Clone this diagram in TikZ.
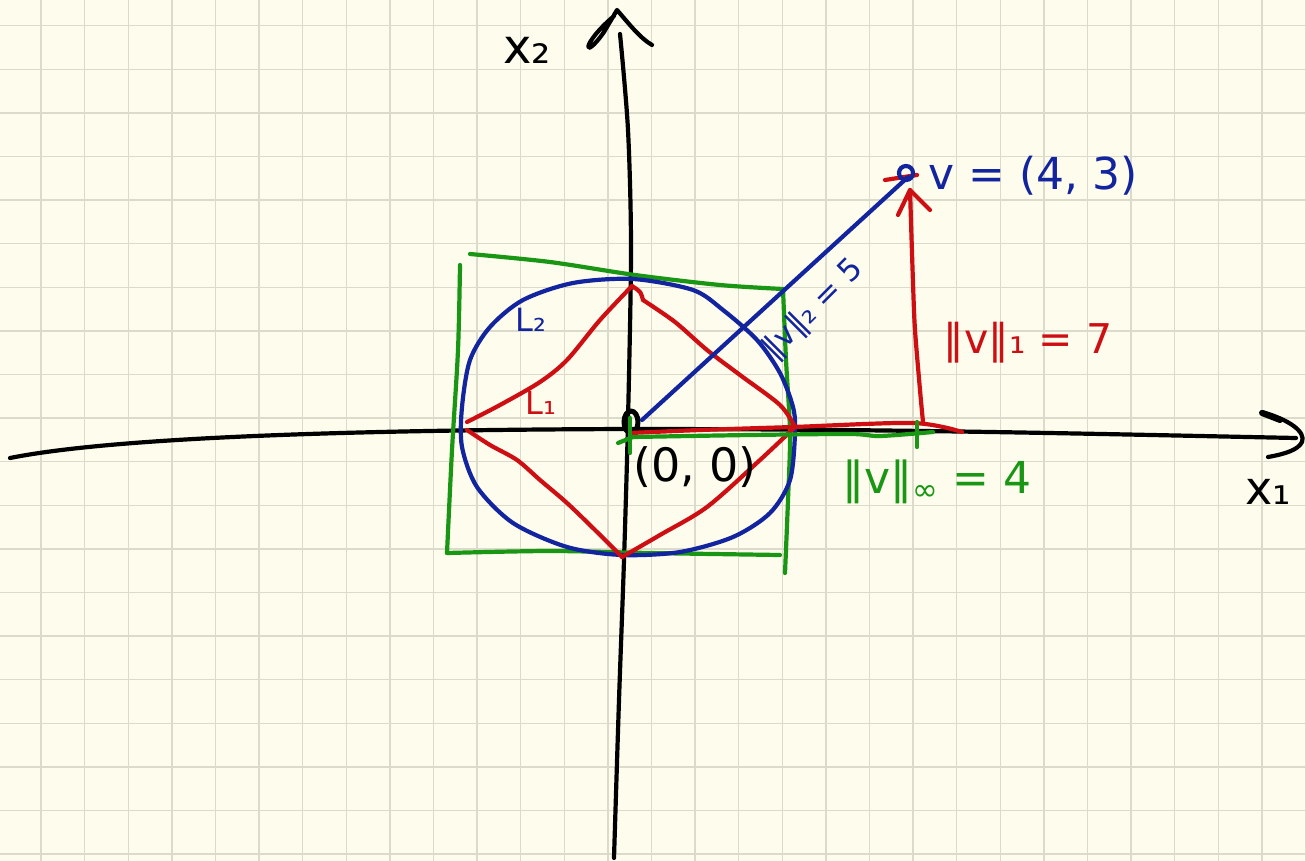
\documentclass[tikz,border=0pt]{standalone}
\usepackage{fontspec}
\setmainfont{DejaVu Sans}
\definecolor{paper}{RGB}{254,252,236}
\definecolor{gridc}{RGB}{220,218,202}
\definecolor{inkblue}{RGB}{18,36,158}
\definecolor{inkred}{RGB}{205,15,20}
\definecolor{inkgreen}{RGB}{25,150,20}
\begin{document}
\begin{tikzpicture}[x=1pt,y=-1pt,
  ink/.style={line width=4.2pt,line cap=round,line join=round},
  gridline/.style={gridc,line width=1.4pt},
  lbl/.style={inner sep=0pt,font=\fontsize{#1}{#1}\selectfont},
  lbl/.default=40]
\fill[paper] (0,0) rectangle (1306,861);
\useasboundingbox (0,0) rectangle (1306,861);
\foreach \k in {0,...,29} \draw[gridline] ({41+43.6*\k},0) -- ({41+43.6*\k},861);
\foreach \k in {0,...,19} \draw[gridline] (0,{25.7+43.6*\k}) -- (1306,{25.7+43.6*\k});

% named points
\coordinate (O) at (631,422);
\coordinate (Vs) at (642,420);
\coordinate (V) at (908,177);
\coordinate (Xl) at (10,458);
\coordinate (Xm) at (630,429);
\coordinate (Xr) at (1296,438);
\coordinate (Yb) at (614,858);
\coordinate (Yt) at (620,34);
\coordinate (Rs) at (630,433);
\coordinate (Re) at (962,432);
\coordinate (Rb) at (923,422);
\coordinate (Rt) at (910,190);
\coordinate (Gs) at (633,437);
\coordinate (Ge) at (933,432);

% axes
\draw[ink,black] (Xl) .. controls (100,440) and (300,430) .. (Xm)
                      .. controls (900,429) and (1100,434) .. (Xr);
\draw[ink,black] (1262,412) .. controls (1290,420) and (1306,432) .. (1302,442)
                 .. controls (1298,450) and (1285,454) .. (1268,457);
\draw[ink,black,line width=6pt] (1262,413) -- (1280,420);
\draw[ink,black] plot[smooth] coordinates {(Yb) (619,700) (624,560) (628,420) (631,250) (628,130) (Yt)};
\draw[ink,black] (614,16) .. controls (580,45) and (583,62) .. (604,32) -- (617,10)
                 .. controls (630,25) and (640,38) .. (652,45);
\draw[ink,black,line width=5pt] (O) ellipse [x radius=7,y radius=11];

% green square (L-infinity ball)
\draw[ink,inkgreen] plot[smooth] coordinates {(470,254) (550,262) (635,275) (720,285) (783,289)};
\draw[ink,inkgreen] plot[smooth] coordinates {(460,265) (458,350) (452,450) (447,553)};
\draw[ink,inkgreen] plot[smooth] coordinates {(447,553) (550,551) (650,553) (780,555)};
\draw[ink,inkgreen] plot[smooth] coordinates {(783,289) (786,360) (790,433) (788,500) (785,573)};

% blue circle (L2 ball)
\draw[ink,inkblue] plot[smooth cycle] coordinates {(633,279) (693,290) (723,310) (757,340) (780,373)
  (793,407) (795,433) (790,480) (770,513) (733,537) (680,552) (622,555) (567,547) (513,523)
  (477,487) (462,447) (462,407) (470,360) (490,327) (523,300) (573,283)};

% red diamond (L1 ball)
\draw[ink,inkred] plot[smooth] coordinates {(467,422) (500,405) (540,382) (567,360) (600,320) (632,286)};
\draw[ink,inkred] plot[smooth] coordinates {(632,286) (640,292) (643,300)};
\draw[ink,inkred] plot[smooth] coordinates {(643,300) (675,322) (707,350) (740,375) (780,405) (795,427)};
\draw[ink,inkred] plot[smooth] coordinates {(795,427) (760,460) (707,507) (660,535) (622,557)};
\draw[ink,inkred] plot[smooth] coordinates {(622,557) (595,530) (567,503) (540,480) (517,460) (490,445) (467,430)};

% L1 path
\draw[ink,inkred] plot[smooth] coordinates {(Rs) (700,430) (793,427) (913,423) (Re)};
\draw[ink,inkred] plot[smooth] coordinates {(Rb) (920,390) (915,330) (913,283) (Rt)};
\draw[ink,inkred] (898,215) -- (Rt) -- (930,210);
\draw[ink,inkred] (885,180) -- (917,175);

% L-infinity path
\draw[ink,inkgreen] (618,443) -- (Gs);
\draw[ink,inkgreen] plot[smooth] coordinates {(Gs) (750,435) (850,434) (880,436) (Ge)};
\draw[ink,inkgreen] (630,418) -- (630,453);
\draw[ink,inkgreen] (917,422) -- (917,447);

% vector v
\draw[ink,inkblue] (Vs) -- (V);
\draw[ink,inkblue] (906,173) circle [radius=7];

% labels
\node[lbl=48] (x2) at (527,50) {x₂};
\node[lbl=46] (x1) at (1268,492) {x₁};
\node[lbl=46] (orig) at (695,467) {(0, 0)};
\node[lbl=44,text=inkblue,anchor=west] (vlbl) at (928,176) {v = (4, 3)};
\node[lbl=31,text=inkblue,rotate=45] (n2) at (814,310) {‖v‖₂ = 5};
\node[lbl=41,text=inkred] (n1) at (1028,343) {‖v‖₁ = 7};
\node[lbl=44,text=inkgreen] (ninf) at (937,482) {‖v‖\textsubscript{∞} = 4};
\node[lbl=32,text=inkblue] (L2) at (531,320) {L₂};
\node[lbl=32,text=inkred] (L1) at (541,403) {L₁};
\end{tikzpicture}
\end{document}
